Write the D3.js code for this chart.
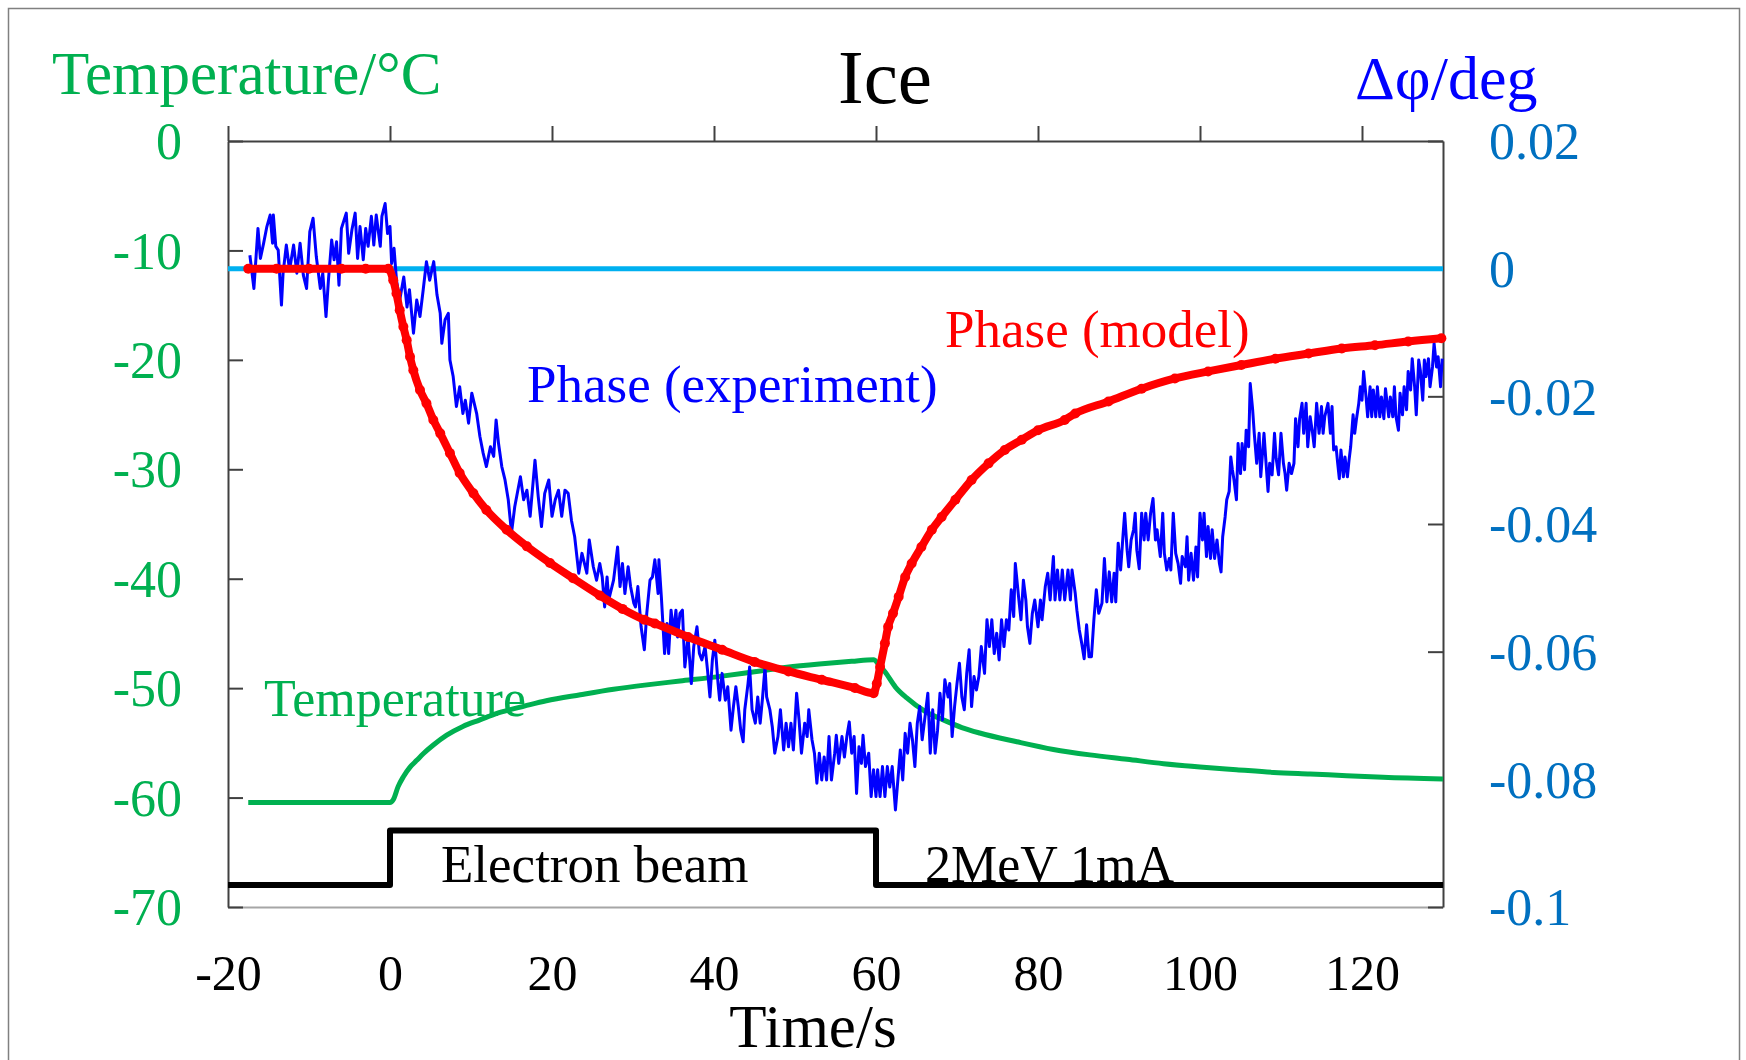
<!DOCTYPE html>
<html>
<head>
<meta charset="utf-8">
<script src="https://cdn.jsdelivr.net/npm/d3@7"></script>
<style>
  body { margin: 0; background: #fff; }
  svg { display: block; }
</style>
</head>
<body>
<svg id="chart" width="1746" height="1060"></svg>
<script>
// ---- data ----
let timeTicks = [-20, 0, 20, 40, 60, 80, 100, 120]
let tempTicks = [0, -10, -20, -30, -40, -50, -60, -70]
let phaseTicks = [0.02, 0, -0.02, -0.04, -0.06, -0.08, -0.1]

// electron beam on/off marker (drawn on temperature axis)
let beam = [[-20, -68], [0, -68], [0, -63], [60, -63], [60, -68], [130, -68]]

// zero reference of phase
let phaseZero = [[-20, 0], [130, 0]]

// temperature /degC
let temperature = [[-17.5,-60.45],[-10,-60.45],[0,-60.45],[0.4,-60.2],[1.0,-59.0],[1.65,-58.1],[2.5,-57.2],
  [3.3,-56.6],[4.1,-56.0],[5.35,-55.2],[7,-54.3],[9,-53.5],[11.1,-52.9],[13.2,-52.3],[15.2,-51.9],
  [17.3,-51.5],[19.3,-51.15],[23.5,-50.6],[27.6,-50.1],[31.7,-49.7],[35.8,-49.35],[41,-48.9],[45,-48.5],
  [49,-48.1],[53,-47.8],[57,-47.55],[59.7,-47.4],[60.4,-47.9],[61.1,-48.5],[62.4,-49.9],[63.8,-50.9],
  [66.1,-52.15],[68.3,-52.9],[70.6,-53.6],[72.8,-54.1],[77.4,-54.9],[81.9,-55.6],[86.4,-56.1],[91,-56.5],
  [95.5,-56.9],[100,-57.2],[104.5,-57.45],[109.1,-57.7],[113.6,-57.85],[118.1,-58.0],[122.6,-58.15],[130,-58.3]]

// phase, model /deg
let phaseModel = [[-17.5,0],[-14,0],[-10,0],[-6,0],[-3,0],[-0.2,0],[0.4,-0.0018],[0.8,-0.0039],[1.2,-0.0065],
  [1.65,-0.0091],[2.06,-0.0112],[2.47,-0.0138],[2.88,-0.0159],[3.7,-0.0190],[4.5,-0.0211],[5.35,-0.0237],
  [6.2,-0.0258],[7.4,-0.0289],[8.6,-0.0320],[10.3,-0.0352],[11.9,-0.0378],[14.4,-0.0409],[16.9,-0.0435],
  [19.75,-0.0461],[22.6,-0.0485],[25.9,-0.0512],[28.7,-0.0533],[31.4,-0.0550],[32.7,-0.0556],[36.8,-0.0577],
  [41,-0.0597],[45,-0.0616],[49.2,-0.0631],[53.3,-0.0644],[57.4,-0.0657],[59.7,-0.0665],[60.1,-0.0650],
  [60.5,-0.0624],[61.1,-0.0587],[61.5,-0.0561],[62.1,-0.0540],[62.8,-0.0514],[63.6,-0.0483],[64.4,-0.0462],
  [65.6,-0.0436],[66.9,-0.0409],[68.1,-0.0389],[69.8,-0.0362],[71.8,-0.0331],[73.9,-0.0305],[75.9,-0.0284],
  [78,-0.0268],[80,-0.0253],[83.3,-0.0237],[84.6,-0.0227],[88.7,-0.0208],[92.8,-0.0188],[96.9,-0.0172],
  [101,-0.0161],[105.1,-0.0151],[109.3,-0.0141],[113.4,-0.0133],[117.5,-0.0125],[121.6,-0.0120],
  [125.7,-0.0114],[129.8,-0.0109]]

// phase, experiment /deg
let phaseExp = [[-17.3,0.0021],[-16.8,-0.0031],[-16.3,0.0063],[-16.0,0.0016],[-15.6,0.0040],[-15.2,0.0066],
  [-14.8,0.0084],[-14.5,0.0040],[-14.4,0.0084],[-14.1,0.0035],[-13.8,0.0029],[-13.4,-0.0057],[-13.2,-0.0007],
  [-12.8,0.0037],[-12.4,-0.0002],[-11.9,0.0037],[-11.5,-0.0007],[-11.1,0.0040],[-10.7,-0.0010],[-10.3,-0.0031],
  [-9.9,0.0058],[-9.5,0.0079],[-9.1,0.0019],[-8.6,-0.0031],[-8.3,-0.0007],[-7.9,-0.0075],[-7.6,-0.0018],
  [-7.2,0.0045],[-6.9,0.0014],[-6.6,0.0042],[-6.3,-0.0026],[-6.0,0.0063],[-5.4,0.0087],[-5.1,0.0024],
  [-4.7,0.0061],[-4.3,0.0087],[-4.0,0.0016],[-3.7,0.0066],[-3.3,0.0014],[-3.0,0.0063],[-2.7,0.0035],
  [-2.3,0.0082],[-2.0,0.0037],[-1.7,0.0084],[-1.2,0.0035],[-1.0,0.0082],[-0.6,0.0102],[-0.3,0.0055],
  [0.0,0.0066],[0.2,0.0008],[0.5,0.0032],[0.8,-0.0018],[1.2,-0.0049],[1.7,-0.0013],[2.1,-0.0060],
  [2.4,-0.0033],[2.9,-0.0101],[3.3,-0.0049],[3.7,-0.0075],[4.1,-0.0033],[4.5,0.0011],[4.9,-0.0018],
  [5.4,0.0011],[5.8,-0.0041],[6.2,-0.0070],[6.4,-0.0117],[6.8,-0.0080],[7.2,-0.0070],[7.4,-0.0143],
  [7.8,-0.0169],[8.2,-0.0216],[8.6,-0.0185],[9.0,-0.0227],[9.3,-0.0206],[9.7,-0.0242],[10.1,-0.0195],
  [10.7,-0.0227],[11.1,-0.0263],[11.5,-0.0289],[11.9,-0.0310],[12.4,-0.0279],[12.8,-0.0294],[13.1,-0.0237],
  [13.4,-0.0274],[13.8,-0.0310],[14.2,-0.0331],[14.6,-0.0362],[15.0,-0.0414],[15.4,-0.0373],[16.1,-0.0326],
  [16.5,-0.0362],[16.9,-0.0347],[17.3,-0.0388],[17.9,-0.0300],[18.3,-0.0357],[18.7,-0.0404],[19.1,-0.0352],
  [19.6,-0.0331],[20.0,-0.0388],[20.4,-0.0362],[20.8,-0.0347],[21.2,-0.0388],[21.6,-0.0347],[22.0,-0.0352],
  [22.4,-0.0394],[22.8,-0.0420],[23.3,-0.0477],[23.7,-0.0446],[24.3,-0.0477],[24.6,-0.0425],[25.1,-0.0467],
  [25.5,-0.0488],[25.9,-0.0462],[26.2,-0.0483],[26.5,-0.0530],[26.8,-0.0483],[27.0,-0.0519],[27.6,-0.0488],
  [28.1,-0.0436],[28.4,-0.0498],[28.7,-0.0462],[29.0,-0.0509],[29.4,-0.0467],[29.7,-0.0498],[30.1,-0.0524],
  [30.3,-0.0530],[30.6,-0.0498],[31.0,-0.0561],[31.4,-0.0597],[31.7,-0.0540],[32.1,-0.0488],[32.4,-0.0483],
  [32.7,-0.0456],[33.1,-0.0509],[33.2,-0.0456],[33.5,-0.0514],[33.9,-0.0603],[34.2,-0.0556],[34.4,-0.0603],
  [34.7,-0.0535],[35.0,-0.0571],[35.3,-0.0535],[35.5,-0.0577],[35.8,-0.0540],[36.1,-0.0535],[36.4,-0.0624],
  [36.8,-0.0577],[37.2,-0.0650],[37.5,-0.0592],[37.9,-0.0561],[38.2,-0.0603],[38.5,-0.0613],[38.9,-0.0592],
  [39.2,-0.0629],[39.5,-0.0671],[39.8,-0.0613],[40.1,-0.0582],[40.5,-0.0650],[40.7,-0.0676],[41.0,-0.0634],
  [41.4,-0.0676],[41.7,-0.0655],[42.1,-0.0723],[42.4,-0.0686],[42.7,-0.0655],[43.0,-0.0686],[43.3,-0.0723],
  [43.6,-0.0741],[43.8,-0.0691],[44.2,-0.0650],[44.4,-0.0624],[44.7,-0.0691],[45.1,-0.0712],[45.4,-0.0671],
  [45.7,-0.0712],[46.0,-0.0671],[46.3,-0.0624],[46.5,-0.0671],[46.9,-0.0691],[47.2,-0.0718],[47.5,-0.0759],
  [47.9,-0.0733],[48.2,-0.0691],[48.6,-0.0754],[48.9,-0.0712],[49.2,-0.0749],[49.5,-0.0712],[49.8,-0.0754],
  [50.2,-0.0665],[50.5,-0.0707],[50.8,-0.0759],[51.2,-0.0712],[51.5,-0.0733],[51.7,-0.0691],[52.1,-0.0738],
  [52.4,-0.0759],[52.7,-0.0806],[53.0,-0.0759],[53.3,-0.0801],[53.6,-0.0765],[53.9,-0.0801],[54.2,-0.0733],
  [54.5,-0.0801],[54.9,-0.0759],[55.1,-0.0731],[55.4,-0.0775],[55.8,-0.0733],[56.1,-0.0765],[56.4,-0.0733],
  [56.7,-0.0710],[57.0,-0.0759],[57.3,-0.0733],[57.6,-0.0822],[57.9,-0.0749],[58.2,-0.0775],[58.4,-0.0731],
  [58.7,-0.0780],[59.1,-0.0759],[59.4,-0.0827],[59.7,-0.0785],[60.0,-0.0827],[60.2,-0.0785],[60.5,-0.0827],
  [60.8,-0.0780],[61.1,-0.0827],[61.4,-0.0780],[61.7,-0.0812],[62.0,-0.0780],[62.4,-0.0848],[62.7,-0.0801],
  [63.0,-0.0754],[63.3,-0.0801],[63.6,-0.0728],[63.9,-0.0759],[64.2,-0.0712],[64.5,-0.0738],[64.8,-0.0780],
  [65.1,-0.0712],[65.4,-0.0686],[65.7,-0.0738],[66.1,-0.0697],[66.4,-0.0665],[66.7,-0.0759],[67.0,-0.0691],
  [67.3,-0.0759],[67.6,-0.0723],[67.9,-0.0665],[68.2,-0.0707],[68.5,-0.0644],[68.9,-0.0671],[69.1,-0.0650],
  [69.4,-0.0733],[69.7,-0.0686],[70.0,-0.0650],[70.3,-0.0618],[70.6,-0.0671],[70.9,-0.0691],[71.2,-0.0634],
  [71.5,-0.0597],[71.8,-0.0686],[72.1,-0.0639],[72.4,-0.0660],[72.7,-0.0639],[73.0,-0.0592],[73.4,-0.0634],
  [73.7,-0.0550],[74.0,-0.0592],[74.3,-0.0550],[74.6,-0.0603],[74.9,-0.0571],[75.2,-0.0613],[75.5,-0.0550],
  [75.8,-0.0592],[76.1,-0.0550],[76.4,-0.0566],[76.7,-0.0503],[77.0,-0.0545],[77.2,-0.0462],[77.6,-0.0514],
  [77.9,-0.0550],[78.2,-0.0488],[78.5,-0.0519],[78.7,-0.0561],[79.0,-0.0587],[79.3,-0.0540],[79.6,-0.0519],
  [80.0,-0.0561],[80.3,-0.0519],[80.5,-0.0550],[80.9,-0.0498],[81.2,-0.0477],[81.5,-0.0519],[81.9,-0.0451],
  [82.1,-0.0519],[82.4,-0.0472],[82.7,-0.0519],[83.0,-0.0472],[83.3,-0.0519],[83.7,-0.0472],[84.0,-0.0519],
  [84.2,-0.0472],[84.6,-0.0509],[84.8,-0.0535],[85.1,-0.0566],[85.4,-0.0587],[85.7,-0.0611],[86.0,-0.0558],
  [86.3,-0.0608],[86.6,-0.0608],[86.9,-0.0550],[87.2,-0.0503],[87.5,-0.0540],[87.9,-0.0524],[88.2,-0.0454],
  [88.5,-0.0522],[88.8,-0.0475],[89.1,-0.0522],[89.4,-0.0477],[89.6,-0.0522],[89.9,-0.0430],[90.2,-0.0472],
  [90.5,-0.0417],[90.7,-0.0383],[91.0,-0.0441],[91.2,-0.0467],[91.5,-0.0425],[91.8,-0.0409],[92.0,-0.0383],
  [92.2,-0.0441],[92.5,-0.0470],[92.8,-0.0383],[93.1,-0.0425],[93.3,-0.0383],[93.6,-0.0425],[93.9,-0.0383],
  [94.2,-0.0360],[94.5,-0.0425],[94.7,-0.0409],[95.1,-0.0451],[95.4,-0.0383],[95.6,-0.0446],[95.9,-0.0472],
  [96.2,-0.0454],[96.4,-0.0472],[96.7,-0.0383],[97.0,-0.0446],[97.3,-0.0462],[97.6,-0.0493],[97.8,-0.0451],
  [98.2,-0.0467],[98.4,-0.0420],[98.6,-0.0488],[98.9,-0.0446],[99.2,-0.0488],[99.5,-0.0436],[99.7,-0.0483],
  [100.0,-0.0383],[100.3,-0.0425],[100.5,-0.0383],[100.8,-0.0451],[101.0,-0.0404],[101.3,-0.0454],
  [101.5,-0.0409],[101.8,-0.0454],[102.1,-0.0425],[102.4,-0.0462],[102.6,-0.0475],[102.8,-0.0420],
  [103.1,-0.0389],[103.3,-0.0362],[103.6,-0.0349],[103.8,-0.0295],[104.0,-0.0315],[104.2,-0.0331],
  [104.5,-0.0362],[104.7,-0.0274],[105.0,-0.0321],[105.2,-0.0274],[105.5,-0.0315],[105.7,-0.0253],
  [106.0,-0.0279],[106.2,-0.0180],[106.5,-0.0221],[106.7,-0.0258],[107.0,-0.0305],[107.3,-0.0258],
  [107.5,-0.0326],[107.9,-0.0258],[108.1,-0.0295],[108.4,-0.0349],[108.6,-0.0305],[108.9,-0.0323],
  [109.2,-0.0258],[109.4,-0.0297],[109.7,-0.0323],[110.0,-0.0258],[110.3,-0.0305],[110.5,-0.0321],
  [110.7,-0.0347],[111.0,-0.0305],[111.3,-0.0321],[111.6,-0.0305],[111.8,-0.0235],[112.1,-0.0279],
  [112.3,-0.0235],[112.6,-0.0211],[112.8,-0.0258],[113.1,-0.0211],[113.3,-0.0279],[113.6,-0.0232],
  [113.9,-0.0258],[114.1,-0.0279],[114.4,-0.0211],[114.7,-0.0258],[115.0,-0.0216],[115.2,-0.0258],
  [115.4,-0.0232],[115.8,-0.0211],[116.1,-0.0258],[116.3,-0.0216],[116.5,-0.0284],[116.8,-0.0279],
  [117.0,-0.0305],[117.2,-0.0329],[117.4,-0.0284],[117.7,-0.0326],[117.9,-0.0295],[118.2,-0.0326],
  [118.4,-0.0300],[118.6,-0.0279],[118.9,-0.0229],[119.1,-0.0258],[119.3,-0.0237],[119.6,-0.0211],
  [119.8,-0.0185],[120.0,-0.0206],[120.2,-0.0161],[120.5,-0.0201],[120.7,-0.0232],[121.0,-0.0185],
  [121.2,-0.0232],[121.4,-0.0190],[121.7,-0.0232],[121.9,-0.0185],[122.2,-0.0232],[122.4,-0.0201],
  [122.7,-0.0235],[122.9,-0.0188],[123.3,-0.0232],[123.5,-0.0201],[123.8,-0.0232],[124.0,-0.0185],
  [124.2,-0.0232],[124.5,-0.0253],[124.7,-0.0195],[125.0,-0.0229],[125.2,-0.0185],[125.5,-0.0221],
  [125.7,-0.0161],[126.0,-0.0190],[126.2,-0.0141],[126.5,-0.0185],[126.7,-0.0229],[127.0,-0.0143],
  [127.2,-0.0159],[127.5,-0.0206],[127.7,-0.0143],[127.9,-0.0169],[128.2,-0.0141],[128.4,-0.0185],
  [128.7,-0.0154],[128.9,-0.0117],[129.2,-0.0154],[129.4,-0.0138],[129.7,-0.0185],[129.9,-0.0141]]

// ---- colours / fonts ----
let serif = '"Times New Roman", "Liberation Serif", serif'
let green = '#00b050'
let blue = '#0000ff'
let cyan = '#00b0f0'
let axisBlue = '#0070c0'
let red = '#ff0000'

let plot = { left: 228, right: 1443, top: 141, bottom: 907 }

let svg = d3.select('#chart')

svg.append('rect')
  .attr('x', 8.5).attr('y', 8.5)
  .attr('width', 1731).attr('height', 1200)
  .attr('fill', '#fff')
  .attr('stroke', '#808080')
  .attr('stroke-width', 1.5)

let x = d3.scaleLinear().domain([-20, 130]).range([plot.left, plot.right])
let yT = d3.scaleLinear().domain([-70, 0]).range([plot.bottom, plot.top])
let yP = d3.scaleLinear().domain([-0.1, 0.02]).range([plot.bottom, plot.top])

/*** axes ***/
function styleAxis (g, color, lineColor) {
  g.attr('font-family', serif)
  g.select('.domain').attr('stroke', lineColor).attr('stroke-width', 2)
  g.selectAll('.tick line').attr('stroke', '#404040').attr('stroke-width', 2)
  g.selectAll('.tick text').attr('fill', color).attr('font-size', 52)
}

// bottom: labels only, grey line
let xBottom = svg.append('g')
  .attr('transform', `translate(0, ${plot.bottom})`)
  .call(d3.axisBottom(x).tickValues(timeTicks).tickSize(0).tickSizeOuter(0).tickPadding(20)
    .tickFormat(d => String(d)))
styleAxis(xBottom, '#000', '#a6a6a6')
xBottom.selectAll('.tick text').attr('font-size', 50).attr('dy', '0.71em').attr('y', 47)

// top: outward ticks, no labels
let xTop = svg.append('g')
  .attr('transform', `translate(0, ${plot.top})`)
  .call(d3.axisTop(x).tickValues(timeTicks).tickSize(15).tickSizeOuter(0).tickFormat(''))
styleAxis(xTop, '#000', '#404040')

// left: temperature
let yLeft = svg.append('g')
  .attr('transform', `translate(${plot.left}, 0)`)
  .call(d3.axisLeft(yT).tickValues(tempTicks).tickSize(-15).tickSizeOuter(0).tickPadding(46)
    .tickFormat(d => String(d)))
styleAxis(yLeft, green, '#404040')
yLeft.selectAll('.tick text').attr('dy', '0.34em')

// right: phase
let yRight = svg.append('g')
  .attr('transform', `translate(${plot.right}, 0)`)
  .call(d3.axisRight(yP).tickValues(phaseTicks).tickSize(-15).tickSizeOuter(0).tickPadding(46)
    .tickFormat(d => String(d)))
styleAxis(yRight, axisBlue, '#404040')
yRight.selectAll('.tick text').attr('dy', '0.34em')

/*** lines ***/
let lineT = d3.line().x(d => x(d[0])).y(d => yT(d[1]))
let lineP = d3.line().x(d => x(d[0])).y(d => yP(d[1]))
let smoothT = d3.line().x(d => x(d[0])).y(d => yT(d[1])).curve(d3.curveMonotoneX)
let smoothP = d3.line().x(d => x(d[0])).y(d => yP(d[1])).curve(d3.curveMonotoneX)

svg.append('path').datum(phaseZero)
  .attr('d', lineP).attr('fill', 'none')
  .attr('stroke', cyan).attr('stroke-width', 5)

svg.append('path').datum(temperature)
  .attr('d', smoothT).attr('fill', 'none')
  .attr('stroke', green).attr('stroke-width', 5)
  .attr('stroke-linejoin', 'round')

svg.append('path').datum(phaseExp)
  .attr('d', lineP).attr('fill', 'none')
  .attr('stroke', blue).attr('stroke-width', 3)
  .attr('stroke-linejoin', 'round')

svg.append('path').datum(phaseModel)
  .attr('d', smoothP).attr('fill', 'none')
  .attr('stroke', red).attr('stroke-width', 8)
  .attr('stroke-linejoin', 'round').attr('stroke-linecap', 'round')

svg.append('g').selectAll('circle')
  .data(phaseModel)
  .enter()
  .append('circle')
  .attr('cx', d => x(d[0]))
  .attr('cy', d => yP(d[1]))
  .attr('r', 5)
  .attr('fill', red)

svg.append('path').datum(beam)
  .attr('d', lineT).attr('fill', 'none')
  .attr('stroke', '#000').attr('stroke-width', 6)
  .attr('stroke-linejoin', 'round')

/*** texts ***/
function label (txt, px, py, size, color, anchor) {
  svg.append('text')
    .attr('x', px).attr('y', py)
    .attr('font-family', serif)
    .attr('font-size', size)
    .attr('fill', color)
    .attr('text-anchor', anchor || 'start')
    .text(txt)
}

label('Ice', 885, 103, 77, '#000', 'middle')
label('Temperature/°C', 52, 94, 61, green)
label('Δφ/deg', 1355, 99, 62, blue)
label('Time/s', 813, 1047, 61, '#000', 'middle')
label('Phase (experiment)', 527, 402, 53, blue)
label('Phase (model)', 945, 347, 53, red)
label('Temperature', 264, 716, 52, green)
label('Electron beam', 441, 882, 53, '#000')
label('2MeV 1mA', 925, 882, 52, '#000')
</script>
</body>
</html>
